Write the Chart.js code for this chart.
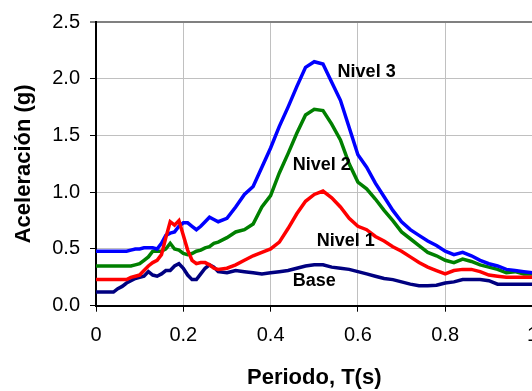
<!DOCTYPE html>
<html>
<head>
<meta charset="utf-8">
<script src="https://cdn.jsdelivr.net/npm/chart.js@4/dist/chart.umd.min.js"></script>
<style>
  html, body { margin: 0; padding: 0; background: #fff; overflow: hidden; }
  #wrap { position: absolute; left: 0; top: 0; width: 560px; height: 391px; }
</style>
</head>
<body>
<div id="wrap"><canvas id="chart" width="560" height="391"></canvas></div>
<script>
const periods = [0, 0.02, 0.04, 0.05, 0.06, 0.07, 0.08, 0.09, 0.10, 0.11, 0.12, 0.13, 0.14, 0.15,
  0.16, 0.17, 0.18, 0.19, 0.20, 0.21, 0.22, 0.23, 0.24, 0.25, 0.26, 0.27, 0.28,
  0.30, 0.32, 0.34, 0.36, 0.38, 0.40, 0.42, 0.44, 0.46, 0.48, 0.50, 0.52, 0.54, 0.56, 0.58,
  0.60, 0.62, 0.64, 0.66, 0.68, 0.70, 0.72, 0.74, 0.76, 0.78, 0.80, 0.82, 0.84, 0.86, 0.88,
  0.90, 0.92, 0.94, 0.96, 0.98, 1.00];

const nivel3 = [0.48, 0.48, 0.48, 0.48, 0.48, 0.48, 0.49, 0.50, 0.50, 0.51, 0.51, 0.51, 0.50, 0.55,
  0.62, 0.64, 0.65, 0.70, 0.73, 0.73, 0.70, 0.67, 0.70, 0.74, 0.78, 0.76, 0.74,
  0.77, 0.87, 0.98, 1.05, 1.22, 1.39, 1.58, 1.75, 1.93, 2.10, 2.15, 2.13, 1.97, 1.81, 1.57,
  1.33, 1.22, 1.08, 0.96, 0.84, 0.74, 0.67, 0.62, 0.57, 0.53, 0.48, 0.45, 0.47, 0.44, 0.40,
  0.37, 0.35, 0.32, 0.31, 0.30, 0.29];

const nivel2 = [0.35, 0.35, 0.35, 0.35, 0.35, 0.35, 0.35, 0.36, 0.37, 0.40, 0.43, 0.48, 0.48, 0.48,
  0.50, 0.55, 0.50, 0.49, 0.46, 0.45, 0.46, 0.48, 0.49, 0.51, 0.52, 0.55, 0.56,
  0.60, 0.65, 0.67, 0.72, 0.87, 0.97, 1.17, 1.34, 1.52, 1.68, 1.73, 1.72, 1.60, 1.46, 1.25,
  1.09, 1.03, 0.94, 0.84, 0.75, 0.65, 0.59, 0.53, 0.47, 0.44, 0.40, 0.38, 0.41, 0.39, 0.36,
  0.34, 0.32, 0.29, 0.30, 0.28, 0.28];

const nivel1 = [0.23, 0.23, 0.23, 0.23, 0.23, 0.23, 0.25, 0.26, 0.27, 0.31, 0.35, 0.38, 0.40, 0.45,
  0.60, 0.74, 0.71, 0.75, 0.62, 0.49, 0.40, 0.37, 0.38, 0.38, 0.36, 0.33, 0.32,
  0.33, 0.36, 0.40, 0.44, 0.47, 0.50, 0.56, 0.68, 0.81, 0.92, 0.98, 1.01, 0.95, 0.87, 0.77,
  0.70, 0.67, 0.61, 0.57, 0.52, 0.48, 0.43, 0.38, 0.34, 0.31, 0.28, 0.31, 0.32, 0.32, 0.30,
  0.27, 0.26, 0.25, 0.25, 0.25, 0.25];

const base = [0.12, 0.12, 0.12, 0.15, 0.17, 0.20, 0.22, 0.24, 0.25, 0.26, 0.30, 0.27, 0.26, 0.28,
  0.31, 0.31, 0.35, 0.37, 0.33, 0.27, 0.23, 0.23, 0.28, 0.33, 0.36, 0.34, 0.30,
  0.29, 0.31, 0.30, 0.29, 0.28, 0.29, 0.30, 0.31, 0.33, 0.35, 0.36, 0.36, 0.34, 0.33, 0.32,
  0.30, 0.28, 0.26, 0.24, 0.23, 0.21, 0.19, 0.175, 0.175, 0.18, 0.20, 0.21, 0.23, 0.23, 0.23,
  0.22, 0.19, 0.19, 0.19, 0.19, 0.19];

const xTickLabels = ["0", "0.2", "0.4", "0.6", "0.8", "1"];
const yTickLabels = ["0.0", "0.5", "1.0", "1.5", "2.0", "2.5"];

// series name, where its label sits (in data units)
const seriesLabels = [
  { text: "Nivel 3", x: 0.62, y: 2.06 },
  { text: "Nivel 2", x: 0.517, y: 1.24 },
  { text: "Nivel 1", x: 0.572, y: 0.57 },
  { text: "Base", x: 0.50, y: 0.22 }
];

function toPoints(values) {
  return values.map((v, i) => ({ x: periods[i], y: v }));
}

Chart.defaults.font.family = "'Liberation Sans', Arial, sans-serif";
Chart.defaults.color = "#000";

const lineStyle = { borderWidth: 3.5, pointRadius: 0, tension: 0, fill: false };

const seriesLabelPlugin = {
  id: "seriesLabels",
  afterDatasetsDraw(chart) {
    const { ctx, scales } = chart;
    ctx.save();
    ctx.font = "bold 18px 'Liberation Sans', Arial, sans-serif";
    ctx.fillStyle = "#000";
    ctx.textAlign = "center";
    ctx.textBaseline = "middle";
    for (const lab of seriesLabels) {
      ctx.fillText(lab.text, scales.x.getPixelForValue(lab.x), scales.y.getPixelForValue(lab.y));
    }
    ctx.restore();
  }
};

new Chart(document.getElementById("chart"), {
  type: "line",
  data: {
    datasets: [
      { label: "Nivel 1", data: toPoints(nivel1), borderColor: "#ff0000", ...lineStyle },
      { label: "Nivel 3", data: toPoints(nivel3), borderColor: "#0000ff", ...lineStyle },
      { label: "Nivel 2", data: toPoints(nivel2), borderColor: "#008000", ...lineStyle },
      { label: "Base", data: toPoints(base), borderColor: "#000080", ...lineStyle }
    ]
  },
  options: {
    responsive: false,
    animation: false,
    layout: { padding: { top: 22, right: 27.5, bottom: 0, left: 0 } },
    plugins: {
      legend: { display: false },
      tooltip: { enabled: false }
    },
    scales: {
      x: {
        type: "linear",
        min: 0,
        max: 1,
        afterFit: (s) => { s.height = 85.3; },
        ticks: {
          stepSize: 0.2,
          padding: 12,
          font: { size: 20 },
          color: "#000",
          callback: (v, i) => xTickLabels[i]
        },
        grid: { color: "#c0c0c0", lineWidth: 1, tickLength: 6, tickColor: "#000", tickWidth: 1 },
        border: { color: "#000", width: 2 },
        title: {
          display: true,
          text: "Periodo, T(s)",
          font: { size: 22, weight: "bold" },
          color: "#000",
          padding: { top: 0, bottom: 0 }
        }
      },
      y: {
        min: 0,
        max: 2.5,
        afterFit: (s) => { s.width = 96; },
        ticks: {
          stepSize: 0.5,
          padding: 10,
          font: { size: 20 },
          color: "#000",
          callback: (v, i) => yTickLabels[i]
        },
        grid: {
          color: (c) => (c.tick && c.tick.value === 2.5 ? "#808080" : "#c0c0c0"),
          lineWidth: (c) => (c.tick && c.tick.value === 2.5 ? 2 : 1),
          tickLength: 6,
          tickColor: "#000",
          tickWidth: 1
        },
        border: { color: "#000", width: 2 },
        title: {
          display: true,
          text: "Aceleración (g)",
          font: { size: 22, weight: "bold" },
          color: "#000",
          padding: { top: 11, bottom: 0 }
        }
      }
    }
  },
  plugins: [seriesLabelPlugin]
});
</script>
</body>
</html>
